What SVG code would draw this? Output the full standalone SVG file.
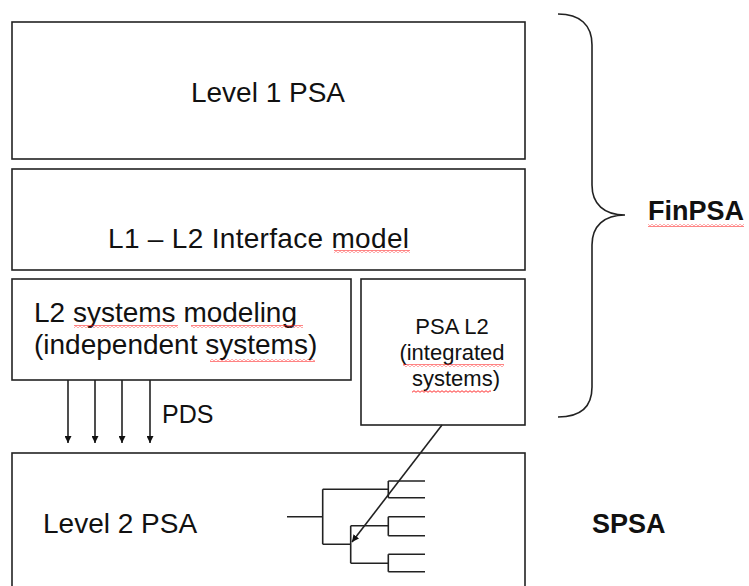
<svg xmlns="http://www.w3.org/2000/svg" width="749" height="586" viewBox="0 0 749 586">
<style>
.box{fill:#fff;stroke:#222;stroke-width:1.6}
.ln{fill:none;stroke:#222;stroke-width:1.6}
.t{font-family:"Liberation Sans",Arial,sans-serif;fill:#111}
.b{font-weight:bold}
.sq{fill:url(#squig)}
</style>
<defs>
<pattern id="squig" patternUnits="userSpaceOnUse" x="0" y="0" width="4" height="3">
<path d="M0,2.3 L2,0.7 L4,2.3" fill="none" stroke="#ff1a1a" stroke-width="0.9"/>
</pattern>
<marker id="ah" viewBox="0 0 10 10" refX="10" refY="5" markerWidth="7" markerHeight="7" markerUnits="userSpaceOnUse" orient="auto">
<path d="M0,0 L10,5 L0,10 z" fill="#111"/>
</marker>
</defs>
<rect width="749" height="586" fill="#fff"/>

<g id="level1">
<rect class="box" x="12" y="22" width="513" height="137"/>
<text class="t" x="268" y="102" font-size="28" text-anchor="middle">Level 1 PSA</text>
</g>

<g id="interface">
<rect class="box" x="12" y="169" width="513" height="101"/>
<text class="t" x="108" y="248" font-size="28" textLength="301" lengthAdjust="spacing">L1 – L2 Interface model</text>
<rect class="sq" x="334" y="250" width="76" height="3"/>
</g>

<g id="l2systems">
<rect class="box" x="12" y="279" width="339" height="101"/>
<text class="t" x="34" y="322" font-size="28">L2 systems modeling</text>
<text class="t" x="34" y="354" font-size="28">(independent systems)</text>
<rect class="sq" x="74" y="325" width="104" height="3"/>
<rect class="sq" x="191" y="325" width="112" height="3"/>
<rect class="sq" x="210" y="359" width="105" height="3"/>
</g>

<g id="psal2">
<rect class="box" x="361" y="279" width="164" height="146"/>
<text class="t" x="452" y="334" font-size="22" text-anchor="middle">PSA L2</text>
<text class="t" x="452" y="360" font-size="22" text-anchor="middle">(integrated</text>
<text class="t" x="456" y="386" font-size="22" text-anchor="middle">systems)</text>
<rect class="sq" x="403" y="364" width="101" height="3"/>
<rect class="sq" x="412" y="390" width="79" height="3"/>
</g>

<g id="level2">
<rect class="box" x="12" y="453" width="513" height="150"/>
<text class="t" x="43" y="533" font-size="28">Level 2 PSA</text>
</g>

<g id="eventtree">
<path class="ln" d="M287,516.7 H322.7 M322.7,489.3 V544.3 M322.7,489.3 H388.3 M388.3,481 V497.7 M388.3,481 H425 M388.3,497.7 H425 M322.7,544.3 H350.7 M350.7,525.7 V563.3 M350.7,525.7 H388.3 M388.3,516.7 V535.7 M388.3,516.7 H425 M388.3,535.7 H425 M350.7,563.3 H388.3 M388.3,554.3 V571.7 M388.3,554.3 H425 M388.3,571.7 H425"/>
</g>

<g id="finpsa">
<path class="ln" d="M558,14 C580,14 592,25 592,45 L592,185 C592,204 604,215 625,215 C604,215 592,226 592,245 L592,387 C592,407 580,417 558,417"/>
<text class="t b" x="648" y="220" font-size="27">FinPSA</text>
<rect class="sq" x="648" y="224" width="96" height="3"/>
</g>

<g id="spsa">
<text class="t b" x="592" y="533" font-size="27">SPSA</text>
</g>

<g id="connectors">
<line class="ln" x1="68" y1="380" x2="68" y2="443" marker-end="url(#ah)"/>
<line class="ln" x1="95" y1="380" x2="95" y2="443" marker-end="url(#ah)"/>
<line class="ln" x1="122" y1="380" x2="122" y2="443" marker-end="url(#ah)"/>
<line class="ln" x1="150" y1="380" x2="150" y2="443" marker-end="url(#ah)"/>
<text class="t" x="162" y="423" font-size="25">PDS</text>
<line class="ln" x1="442" y1="425" x2="352" y2="542" marker-end="url(#ah)"/>
</g>
</svg>
